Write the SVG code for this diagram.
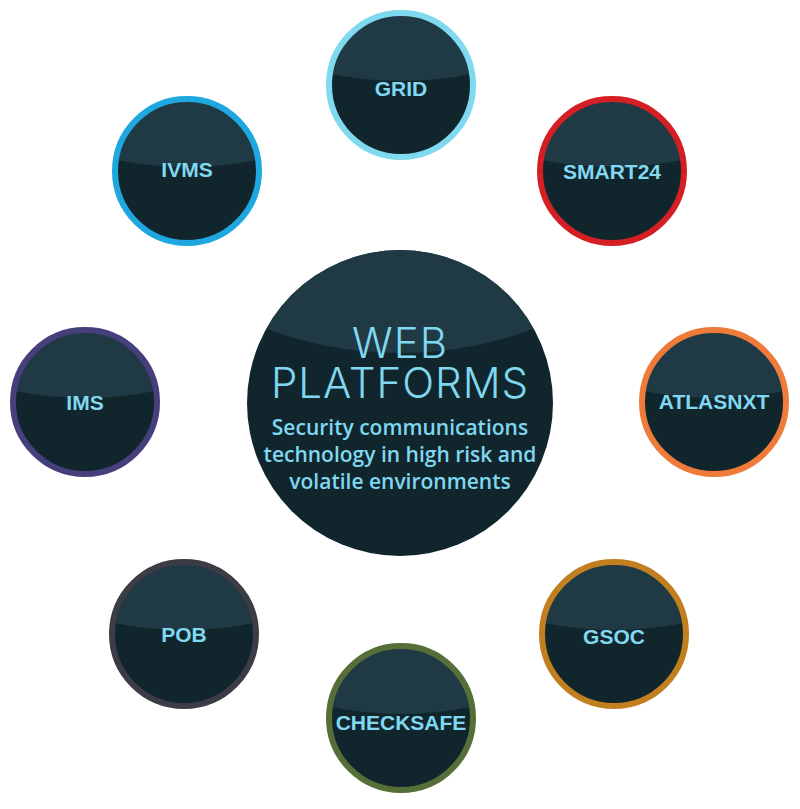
<svg xmlns="http://www.w3.org/2000/svg" xmlns:xlink="http://www.w3.org/1999/xlink" width="800" height="809" viewBox="0 0 800 809">
<style>
.lbl{font-family:"Liberation Sans",Arial,sans-serif;font-weight:bold;font-size:21px;fill:#80d9f1;text-anchor:middle}
.ring{fill:none;stroke-width:6}
.title{font-family:Inter,"Noto Sans",sans-serif;font-weight:300;font-size:42px;letter-spacing:1px;fill:#7fd8f0;text-anchor:middle}
.sub{font-family:"Open Sans","Noto Sans",sans-serif;font-weight:600;font-size:21px;fill:#7fd8f0;text-anchor:middle}
</style>
<defs>
<clipPath id="cs"><circle r="72"/></clipPath>
<clipPath id="cb"><circle r="153"/></clipPath>
<g id="ball">
<circle r="72" fill="#11252d"/>
<circle cy="-364" r="360" fill="#1f3a44" clip-path="url(#cs)"/>
</g>
</defs>
<rect width="800" height="809" fill="#ffffff"/>
<g id="connectors"/>
<g id="center" transform="translate(400,403)">
<circle r="153" fill="#11252d"/>
<circle cy="-430" r="380" fill="#1f3a44" clip-path="url(#cb)"/>
<text class="title" y="-45">WEB</text>
<text class="title" y="-5">PLATFORMS</text>
<text class="sub" y="32">Security communications</text>
<text class="sub" y="59">technology in high risk and</text>
<text class="sub" y="86">volatile environments</text>
</g>
<g id="grid" transform="translate(401,85)">
<use xlink:href="#ball"/><circle class="ring" r="72" stroke="#7fd9ef"/>
<text class="lbl" y="11">GRID</text>
</g>
<g id="smart24" transform="translate(612,171)">
<use xlink:href="#ball"/><circle class="ring" r="72" stroke="#d41f24"/>
<text class="lbl" y="8">SMART24</text>
</g>
<g id="atlasnxt" transform="translate(714,402)">
<use xlink:href="#ball"/><circle class="ring" r="72" stroke="#ef7b3b"/>
<text class="lbl" y="7">ATLASNXT</text>
</g>
<g id="gsoc" transform="translate(614,634)">
<use xlink:href="#ball"/><circle class="ring" r="72" stroke="#c17f1f"/>
<text class="lbl" y="10">GSOC</text>
</g>
<g id="checksafe" transform="translate(401,718)">
<use xlink:href="#ball"/><circle class="ring" r="72" stroke="#566f38"/>
<text class="lbl" y="12">CHECKSAFE</text>
</g>
<g id="pob" transform="translate(184,634)">
<use xlink:href="#ball"/><circle class="ring" r="72" stroke="#3b3c45"/>
<text class="lbl" y="8">POB</text>
</g>
<g id="ims" transform="translate(85,402)">
<use xlink:href="#ball"/><circle class="ring" r="72" stroke="#463f7c"/>
<text class="lbl" y="8">IMS</text>
</g>
<g id="ivms" transform="translate(187,171)">
<use xlink:href="#ball"/><circle class="ring" r="72" stroke="#1ea8df"/>
<text class="lbl" y="6">IVMS</text>
</g>
</svg>
